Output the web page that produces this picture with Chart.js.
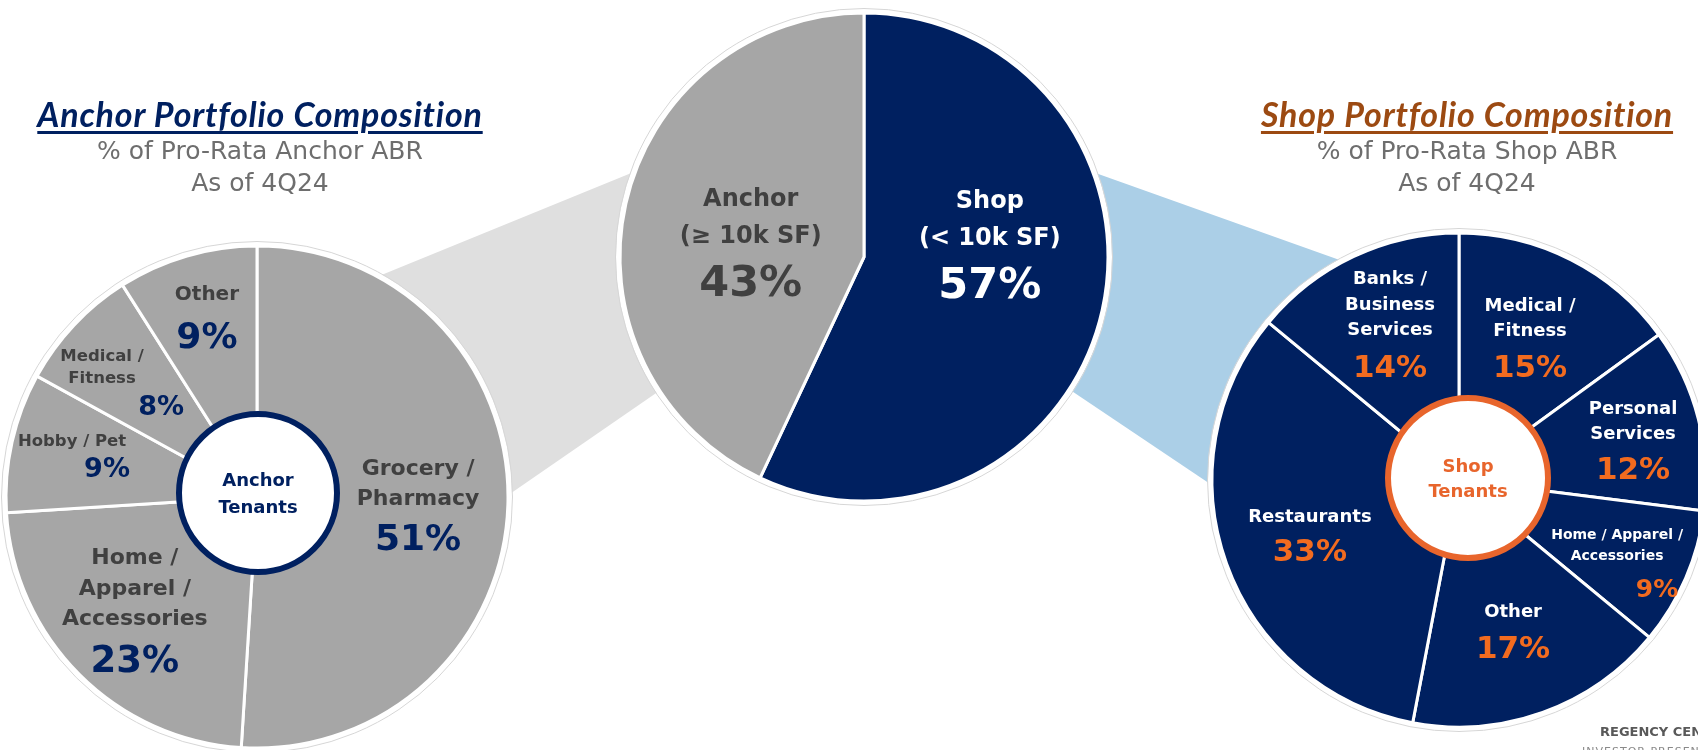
<!DOCTYPE html>
<html>
<head>
<meta charset="utf-8">
<script src="https://cdn.jsdelivr.net/npm/chart.js@4.4.1/dist/chart.umd.min.js"></script>
<style>
  html, body { margin: 0; padding: 0; background: #ffffff; }
  #page { position: relative; width: 1698px; height: 750px; overflow: hidden; background: #ffffff; }
  #page canvas { position: absolute; }
  #connectors { left: 0; top: 0; z-index: 0; }
  .pie { z-index: 1; }
  .title {
    position: absolute; z-index: 2; width: 520px; text-align: center; white-space: nowrap;
    font-family: Lato, sans-serif; font-weight: 700; font-style: italic; font-size: 34px; line-height: 40px;
    letter-spacing: 0.8px;
    text-decoration: underline; text-decoration-thickness: 3px; text-underline-offset: 4px;
  }
  .sub {
    position: absolute; z-index: 2; width: 520px; text-align: center; white-space: nowrap;
    font-family: 'DejaVu Sans', sans-serif; font-size: 25px; line-height: 32px; color: #6e6e6e;
  }
  .footer { position: absolute; z-index: 2; left: 1600px; white-space: nowrap; font-family: 'DejaVu Sans', sans-serif; }
</style>
</head>
<body>
<div id="page">
  <canvas id="connectors" width="1698" height="750"></canvas>

  <div class="title" style="left:0; top:94px; color:#002060;">Anchor Portfolio Composition</div>
  <div class="sub" style="left:0; top:135px;">% of Pro-Rata Anchor ABR<br>As of 4Q24</div>

  <div class="title" style="left:1207px; top:94px; color:#9c4a12;">Shop Portfolio Composition</div>
  <div class="sub" style="left:1207px; top:135px;">% of Pro-Rata Shop ABR<br>As of 4Q24</div>

  <canvas id="overview-chart" class="pie" width="500" height="500" style="left:614px; top:7px;"></canvas>
  <canvas id="anchor-chart" class="pie" width="520" height="520" style="left:-3px; top:237px;"></canvas>
  <canvas id="shop-chart" class="pie" width="520" height="520" style="left:1199px; top:220px;"></canvas>

  <div class="footer" style="top:724px; font-size:13px; font-weight:700; line-height:16px; color:#595959;">REGENCY CENTERS</div>
  <div class="footer" style="top:745px; left:1582px; font-size:11px; line-height:14px; color:#8a8a8a; letter-spacing:1px;">INVESTOR PRESENTATION</div>
</div>

<script>
const overviewLabels = [['Shop', '(< 10k SF)'], ['Anchor', '(≥ 10k SF)']];
const overviewValues = [57, 43];

const anchorLabels = [
  ['Grocery /', 'Pharmacy'],
  ['Home /', 'Apparel /', 'Accessories'],
  ['Hobby / Pet'],
  ['Medical /', 'Fitness'],
  ['Other'],
];
const anchorValues = [51, 23, 9, 8, 9];

const shopLabels = [
  ['Medical /', 'Fitness'],
  ['Personal', 'Services'],
  ['Home / Apparel /', 'Accessories'],
  ['Other'],
  ['Restaurants'],
  ['Banks /', 'Business', 'Services'],
];
const shopValues = [15, 12, 9, 17, 33, 14];

const NAVY = '#002060';
const GREY = '#a6a6a6';
const ORANGE = '#f26b1f';
const FONT = "'DejaVu Sans', sans-serif";
const CAP = 0.73;

// white rim + faint outline around each pie, then the slice labels and the centre badge
const pieDecorPlugin = {
  id: 'pieDecor',
  afterDatasetsDraw(chart, args, opts) {
    const { ctx } = chart;
    const meta = chart.getDatasetMeta(0);
    const first = meta.data[0];
    const values = chart.data.datasets[0].data;

    ctx.save();
    ctx.beginPath();
    ctx.arc(first.x, first.y, first.outerRadius + 2, 0, Math.PI * 2);
    ctx.strokeStyle = '#ffffff';
    ctx.lineWidth = 4;
    ctx.stroke();
    ctx.beginPath();
    ctx.arc(first.x, first.y, first.outerRadius + 4.5, 0, Math.PI * 2);
    ctx.strokeStyle = '#d6d6d6';
    ctx.lineWidth = 1;
    ctx.stroke();

    ctx.textAlign = 'center';
    ctx.textBaseline = 'alphabetic';
    meta.data.forEach((arc, i) => {
      const s = opts.slices[i];
      const mid = (arc.startAngle + arc.endAngle) / 2 + (s.turn || 0) * Math.PI / 180;
      const r = arc.outerRadius * s.frac;
      const cx = arc.x + Math.cos(mid) * r;
      const cy = arc.y + Math.sin(mid) * r;
      const lines = chart.data.labels[i];
      const span = (lines.length - 1) * s.lineGap + s.valueGap;
      const top = cy - span / 2;

      ctx.fillStyle = s.nameColor || opts.nameColor;
      ctx.font = `bold ${s.nameSize}px ${FONT}`;
      lines.forEach((line, k) => {
        ctx.fillText(line, cx, top + k * s.lineGap + s.nameSize * CAP / 2);
      });

      const vy = top + (lines.length - 1) * s.lineGap + s.valueGap;
      ctx.fillStyle = s.valueColor || opts.valueColor;
      ctx.font = `bold ${s.valueSize}px ${FONT}`;
      ctx.fillText(`${values[i]}%`, cx + (s.valueDx || 0), vy + s.valueSize * CAP / 2);
    });

    const badge = opts.badge;
    if (badge) {
      const bx = first.x + (badge.dx || 0);
      const by = first.y + (badge.dy || 0);
      ctx.beginPath();
      ctx.arc(bx, by, badge.radius, 0, Math.PI * 2);
      ctx.fillStyle = '#ffffff';
      ctx.fill();
      ctx.lineWidth = badge.width;
      ctx.strokeStyle = badge.color;
      ctx.stroke();
      ctx.fillStyle = badge.color;
      ctx.font = `bold ${badge.fontSize}px ${FONT}`;
      const y0 = by - (badge.lines.length - 1) * badge.lineGap / 2;
      badge.lines.forEach((line, k) => {
        ctx.fillText(line, bx, y0 + k * badge.lineGap + badge.fontSize * CAP / 2);
      });
    }
    ctx.restore();
  },
};

function buildPie(canvasId, labels, values, colors, radius, decor) {
  const canvas = document.getElementById(canvasId);
  return new Chart(canvas, {
    type: 'pie',
    data: {
      labels,
      datasets: [
        {
          data: values,
          backgroundColor: colors,
          borderColor: '#ffffff',
          borderWidth: 3,
          radius,
        },
      ],
    },
    options: {
      responsive: false,
      animation: false,
      events: [],
      layout: { padding: 0 },
      plugins: {
        legend: { display: false },
        tooltip: { enabled: false },
        pieDecor: decor,
      },
    },
    plugins: [pieDecorPlugin],
  });
}

const overviewChart = buildPie('overview-chart', overviewLabels, overviewValues, [NAVY, GREY], 244, {
  slices: [
    { frac: 0.52, turn: -20, nameSize: 24, lineGap: 37, valueSize: 43, valueGap: 46, nameColor: '#ffffff', valueColor: '#ffffff' },
    { frac: 0.47, turn: -3.6, nameSize: 24, lineGap: 37, valueSize: 43, valueGap: 46, nameColor: '#404040', valueColor: '#404040' },
  ],
});

const anchorChart = buildPie('anchor-chart', anchorLabels, anchorValues, GREY, 251, {
  nameColor: '#404040',
  valueColor: NAVY,
  slices: [
    { frac: 0.642, turn: 0, nameSize: 22, lineGap: 30, valueSize: 36, valueGap: 40 },
    { frac: 0.655, turn: 3, nameSize: 22, lineGap: 30.5, valueSize: 37, valueGap: 41 },
    { frac: 0.757, turn: 0.6, nameSize: 16.5, lineGap: 22, valueSize: 27, valueGap: 27, valueDx: 35 },
    { frac: 0.774, turn: -6.1, nameSize: 16.5, lineGap: 22, valueSize: 27, valueGap: 28, valueDx: 59 },
    { frac: 0.756, turn: 0.9, nameSize: 20, lineGap: 30, valueSize: 36, valueGap: 42 },
  ],
  badge: { lines: ['Anchor', 'Tenants'], color: NAVY, radius: 79, width: 6, fontSize: 18, lineGap: 27, dx: 1, dy: -4 },
});

const shopChart = buildPie('shop-chart', shopLabels, shopValues, NAVY, 247, {
  nameColor: '#ffffff',
  valueColor: ORANGE,
  slices: [
    { frac: 0.654, turn: -0.9, nameSize: 18, lineGap: 25, valueSize: 31, valueGap: 37 },
    { frac: 0.725, turn: 0.8, nameSize: 18, lineGap: 25, valueSize: 31, valueGap: 35 },
    { frac: 0.719, turn: 3.7, nameSize: 14, lineGap: 21, valueSize: 25, valueGap: 33, valueDx: 40 },
    { frac: 0.64, turn: -0.2, nameSize: 18, lineGap: 25, valueSize: 31, valueGap: 37 },
    { frac: 0.64, turn: 0.4, nameSize: 18, lineGap: 25, valueSize: 31, valueGap: 35 },
    { frac: 0.70, turn: 1.7, nameSize: 18, lineGap: 25.5, valueSize: 31, valueGap: 37 },
  ],
  badge: { lines: ['Shop', 'Tenants'], color: '#e8652c', radius: 80, width: 6, fontSize: 18, lineGap: 25, dx: 9, dy: -2 },
});

// callout wedges joining the overview pie to the two breakdown pies
// angles in degrees clockwise from 12 o'clock on each pie's rim
const anchorConnector = { hub: [290.6, 236.8], spoke: [28.6, 89.6], color: '#dfdfdf' };
const shopConnector = { hub: [69.6, 122.8], spoke: [332.2, 268.8], color: '#abcfe7' };

function rimPoint(chart, deg) {
  const arc = chart.getDatasetMeta(0).data[0];
  const rad = (deg - 90) * Math.PI / 180;
  return [
    chart.canvas.offsetLeft + arc.x + Math.cos(rad) * arc.outerRadius,
    chart.canvas.offsetTop + arc.y + Math.sin(rad) * arc.outerRadius,
  ];
}

function drawConnector(ctx, hubChart, spokeChart, spec) {
  const pts = [
    rimPoint(hubChart, spec.hub[0]),
    rimPoint(spokeChart, spec.spoke[0]),
    rimPoint(spokeChart, spec.spoke[1]),
    rimPoint(hubChart, spec.hub[1]),
  ];
  ctx.beginPath();
  ctx.moveTo(pts[0][0], pts[0][1]);
  pts.slice(1).forEach(([x, y]) => ctx.lineTo(x, y));
  ctx.closePath();
  ctx.fillStyle = spec.color;
  ctx.fill();
}

const bg = document.getElementById('connectors').getContext('2d');
drawConnector(bg, overviewChart, anchorChart, anchorConnector);
drawConnector(bg, overviewChart, shopChart, shopConnector);
</script>
</body>
</html>
